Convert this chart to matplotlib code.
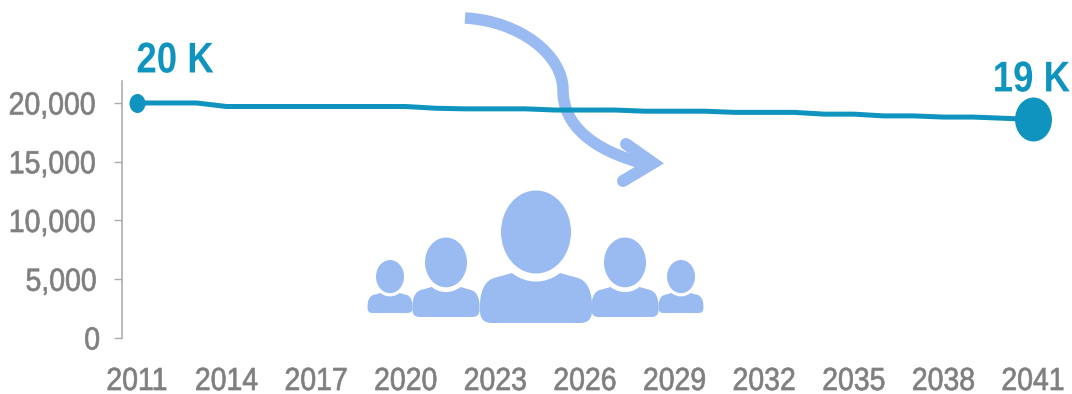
import matplotlib
matplotlib.use('Agg')
import matplotlib.pyplot as plt
from matplotlib.markers import MarkerStyle
from matplotlib.patches import Ellipse, PathPatch
from matplotlib.path import Path
from matplotlib.patheffects import AbstractPathEffect
from matplotlib.transforms import Affine2D

plt.rcParams['font.family'] = ['Liberation Sans', 'DejaVu Sans']

anos = list(range(2011, 2042))
valores = [20000, 20000, 20000, 19700, 19700, 19700, 19700, 19700, 19700, 19700,
           19550, 19500, 19500, 19500, 19400, 19400, 19400, 19300, 19300, 19300,
           19200, 19200, 19200, 19050, 19050, 18900, 18900, 18800, 18800, 18700,
           18600]
anos_eixo = anos[::3]
yticks = [0, 5000, 10000, 15000, 20000]
rotulo_inicio = '20 K'
rotulo_fim = '19 K'

AZUL = '#0F94C0'
CLARO = '#9ABBF2'
CINZA = '#7F7F7F'
LINHA_EIXO = '#ABABAB'
PX = 72 / 100  # one pixel in points at dpi 100


class Condensed(AbstractPathEffect):
    # narrows a text horizontally, keeping its centre or right edge in place,
    # and can thicken the strokes a little
    def __init__(self, factor, anchor='center', extra=0):
        super().__init__()
        self.factor = factor
        self.anchor = anchor
        self.extra = extra

    def draw_path(self, renderer, gc, tpath, affine, rgbFace=None):
        caixa = tpath.get_extents()
        fixo = caixa.x1 if self.anchor == 'right' else (caixa.x0 + caixa.x1) / 2
        aperto = Affine2D().translate(-fixo, 0).scale(self.factor, 1).translate(fixo, 0)
        gc0 = renderer.new_gc()
        gc0.copy_properties(gc)
        if self.extra:
            gc0.set_foreground(rgbFace)
            gc0.set_linewidth(self.extra)
        renderer.draw_path(gc0, tpath, aperto + affine, rgbFace)
        gc0.restore()


def pessoa(ax, cx, base, s):
    # body first, then a white halo and the head on top
    pts = [(-24, -50), (-42, -45), (-52, -42), (-56, -30), (-56, -18), (-56, -12),
           (-56, -4), (-52, 0), (-44, 0), (44, 0), (52, 0), (56, -4), (56, -12),
           (56, -18), (56, -30), (52, -42), (42, -45), (24, -50), (-24, -50)]
    cods = [Path.MOVETO, Path.LINETO, Path.CURVE4, Path.CURVE4, Path.CURVE4, Path.LINETO,
            Path.CURVE4, Path.CURVE4, Path.CURVE4, Path.LINETO, Path.CURVE4, Path.CURVE4,
            Path.CURVE4, Path.LINETO, Path.CURVE4, Path.CURVE4, Path.CURVE4, Path.LINETO,
            Path.CLOSEPOLY]
    corpo = Path([(cx + x * s, base + y * s) for x, y in pts], cods)
    ax.add_patch(PathPatch(corpo, fc=CLARO, ec='none'))
    meio_y = base - 91 * s
    ax.add_patch(Ellipse((cx, meio_y), 86 * s, 99 * s, fc='white', ec='none'))
    ax.add_patch(Ellipse((cx, meio_y), 70 * s, 83 * s, fc=CLARO, ec='none'))


fig = plt.figure(figsize=(10.72, 3.94), dpi=100)

# background layer in pixel coordinates: curved arrow and people icons
fundo = fig.add_axes([0, 0, 1, 1], zorder=0)
fundo.set_xlim(0, 1072)
fundo.set_ylim(394, 0)
fundo.axis('off')

curva = Path([(465, 18), (520, 21), (563, 55), (563, 90), (563, 125), (592, 150), (645, 164)],
             [Path.MOVETO, Path.CURVE4, Path.CURVE4, Path.CURVE4, Path.CURVE4, Path.CURVE4, Path.CURVE4])
fundo.add_patch(PathPatch(curva, fc='none', ec=CLARO, lw=11.5 * PX, capstyle='butt'))
ponta = Path([(626, 144), (653, 163), (623, 181)], [Path.MOVETO, Path.LINETO, Path.LINETO])
fundo.add_patch(PathPatch(ponta, fc='none', ec=CLARO, lw=12 * PX, capstyle='round', joinstyle='miter'))

pessoa(fundo, 390, 313, 0.4)
pessoa(fundo, 681, 313, 0.4)
pessoa(fundo, 446, 317, 0.6)
pessoa(fundo, 625, 317, 0.6)
pessoa(fundo, 536, 323, 1)

# the chart itself
ax = fig.add_axes([122 / 1072, 1 - 338 / 394, (1048 - 122) / 1072, (338 - 81) / 394], zorder=1)
ax.patch.set_visible(False)
ax.plot(anos, valores, color=AZUL, lw=5 * PX, solid_joinstyle='round', clip_on=False)

elipse = MarkerStyle('o', transform=Affine2D().scale(0.84, 1))
ax.plot(anos[0], valores[0], marker=elipse, ms=19 * PX, color=AZUL, mec='none', clip_on=False)
ax.plot(anos[-1], valores[-1], marker=elipse, ms=44 * PX, color=AZUL, mec='none', clip_on=False)

ax.set_xlim(2010.5, 2041.5)
ax.set_ylim(0, 21870)
ax.set_xticks(anos_eixo)
ax.set_yticks(yticks)
ax.set_yticklabels([f'{v:,}' for v in yticks])

for lado in ['top', 'right', 'bottom']:
    ax.spines[lado].set_visible(False)
ax.spines['left'].set_color(LINHA_EIXO)
ax.spines['left'].set_linewidth(1.6 * PX)
ax.tick_params(axis='y', length=8 * PX, width=1.4 * PX, color=LINHA_EIXO, labelcolor=CINZA,
               labelsize=23, pad=13 * PX)
ax.tick_params(axis='x', length=0, labelcolor=CINZA, labelsize=23, pad=29 * PX)

for rotulo in ax.get_xticklabels() + ax.get_yticklabels():
    rotulo.set_path_effects([Condensed(0.89, extra=0.5)])

ax.annotate(rotulo_inicio, (anos[0], valores[0]), xytext=(38 * PX, 30.5 * PX),
            textcoords='offset points', ha='center', va='baseline', color=AZUL,
            fontsize=31, fontweight='bold', path_effects=[Condensed(0.85)])
ax.annotate(rotulo_fim, (anos[-1], valores[-1]), xytext=(37 * PX, 28 * PX),
            textcoords='offset points', ha='right', va='baseline', color=AZUL,
            fontsize=31, fontweight='bold', path_effects=[Condensed(0.85, anchor='right')])

fig.savefig('out.png', dpi=100)
